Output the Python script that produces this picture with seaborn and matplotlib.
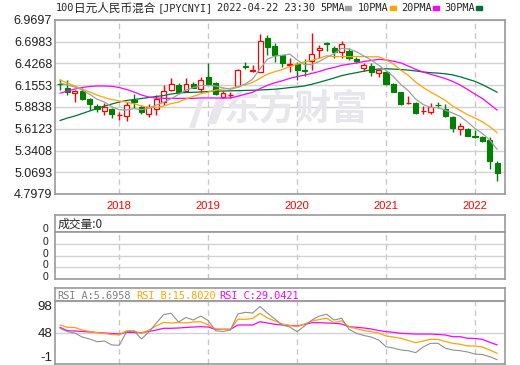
import matplotlib
matplotlib.use('Agg')
import matplotlib.pyplot as plt
from matplotlib.patches import Rectangle, Polygon
import seaborn as sns
import numpy as np
import pandas as pd

# monthly candles, 2017-05 .. 2022-04
months = pd.period_range('2017-05', '2022-04', freq='M')

opens = [6.177, 6.125, 6.055, 6.083, 5.986, 5.902, 5.830, 5.859, 5.780, 5.771,
         5.971, 5.888, 5.800, 5.859, 5.942, 6.100, 6.158, 6.083, 6.171, 6.108,
         6.258, 6.180, 6.012, 6.030, 6.150, 6.396, 6.333, 6.324, 6.749, 6.645,
         6.527, 6.412, 6.417, 6.346, 6.458, 6.592, 6.683, 6.616, 6.567, 6.583,
         6.483, 6.367, 6.399, 6.314, 6.317, 6.171, 6.067, 5.930, 5.930, 5.834,
         5.825, 5.912, 5.855, 5.765, 5.609, 5.609, 5.517, 5.513, 5.472, 5.188]
highs = [6.233, 6.221, 6.100, 6.125, 6.000, 5.921, 5.934, 5.875, 5.825, 5.946,
         6.046, 5.909, 5.917, 6.034, 6.158, 6.249, 6.180, 6.242, 6.200, 6.258,
         6.439, 6.200, 6.083, 6.067, 6.352, 6.442, 6.408, 6.791, 6.782, 6.679,
         6.533, 6.499, 6.449, 6.483, 6.804, 6.658, 6.691, 6.649, 6.708, 6.616,
         6.512, 6.429, 6.429, 6.354, 6.333, 6.180, 6.075, 6.025, 5.942, 5.900,
         5.930, 5.942, 5.917, 5.771, 5.688, 5.625, 5.597, 5.518, 5.513, 5.213]
lows = [6.096, 6.034, 5.952, 5.967, 5.846, 5.821, 5.784, 5.746, 5.722, 5.709,
        5.871, 5.793, 5.763, 5.784, 5.909, 6.083, 6.046, 6.067, 6.117, 6.075,
        6.165, 6.034, 5.992, 5.992, 6.137, 6.358, 6.317, 6.317, 6.533, 6.449,
        6.387, 6.324, 6.221, 6.271, 6.346, 6.492, 6.583, 6.492, 6.499, 6.470,
        6.429, 6.333, 6.274, 6.258, 6.158, 6.067, 5.909, 5.927, 5.796, 5.793,
        5.793, 5.875, 5.763, 5.575, 5.534, 5.522, 5.493, 5.453, 5.110, 4.964]
closes = [6.165, 6.067, 6.083, 5.980, 5.921, 5.859, 5.884, 5.793, 5.788, 5.909,
          5.946, 5.818, 5.880, 5.986, 6.083, 6.171, 6.075, 6.171, 6.125, 6.217,
          6.171, 6.046, 6.055, 6.036, 6.342, 6.383, 6.342, 6.711, 6.629, 6.533,
          6.429, 6.420, 6.346, 6.333, 6.542, 6.624, 6.675, 6.574, 6.666, 6.499,
          6.458, 6.408, 6.317, 6.346, 6.167, 6.075, 5.917, 5.934, 5.813, 5.840,
          5.888, 5.905, 5.775, 5.625, 5.647, 5.526, 5.509, 5.459, 5.213, 5.064]

ma5 = [6.183, 6.158, 6.133, 6.096, 6.043, 5.982, 5.945, 5.887, 5.849, 5.847,
       5.864, 5.851, 5.868, 5.908, 5.943, 5.988, 6.039, 6.097, 6.125, 6.152,
       6.152, 6.146, 6.123, 6.105, 6.130, 6.172, 6.232, 6.363, 6.481, 6.520,
       6.529, 6.544, 6.471, 6.412, 6.414, 6.453, 6.504, 6.550, 6.616, 6.608,
       6.574, 6.521, 6.470, 6.406, 6.339, 6.263, 6.164, 6.088, 5.981, 5.916,
       5.878, 5.876, 5.844, 5.807, 5.768, 5.696, 5.616, 5.553, 5.471, 5.354]
ma10 = [6.221, 6.183, 6.146, 6.108, 6.071, 6.033, 6.002, 5.977, 5.959, 5.945,
        5.923, 5.898, 5.878, 5.879, 5.895, 5.926, 5.945, 5.983, 6.017, 6.048,
        6.070, 6.093, 6.110, 6.115, 6.141, 6.162, 6.189, 6.243, 6.293, 6.325,
        6.351, 6.388, 6.417, 6.447, 6.467, 6.491, 6.524, 6.511, 6.514, 6.511,
        6.514, 6.513, 6.510, 6.511, 6.474, 6.419, 6.343, 6.279, 6.194, 6.128,
        6.071, 6.020, 5.966, 5.894, 5.842, 5.787, 5.746, 5.699, 5.639, 5.561]
ma20 = [6.055, 6.083, 6.108, 6.127, 6.140, 6.146, 6.146, 6.142, 6.127, 6.102,
        6.071, 6.033, 6.008, 5.996, 5.992, 5.992, 5.992, 5.992, 5.992, 5.997,
        5.997, 5.996, 5.994, 5.997, 6.018, 6.044, 6.067, 6.113, 6.155, 6.187,
        6.211, 6.241, 6.264, 6.281, 6.304, 6.327, 6.357, 6.377, 6.404, 6.418,
        6.433, 6.451, 6.464, 6.479, 6.471, 6.455, 6.434, 6.395, 6.354, 6.320,
        6.293, 6.267, 6.238, 6.203, 6.158, 6.103, 6.045, 5.989, 5.917, 5.845]
ma30 = [5.715, 5.746, 5.771, 5.802, 5.834, 5.865, 5.896, 5.921, 5.946, 5.965,
        5.977, 5.990, 6.002, 6.015, 6.027, 6.046, 6.058, 6.065, 6.067, 6.071,
        6.077, 6.083, 6.083, 6.086, 6.088, 6.091, 6.093, 6.096, 6.101, 6.106,
        6.115, 6.126, 6.135, 6.147, 6.168, 6.193, 6.219, 6.246, 6.275, 6.295,
        6.312, 6.331, 6.346, 6.358, 6.361, 6.357, 6.352, 6.344, 6.334, 6.321,
        6.312, 6.307, 6.298, 6.284, 6.261, 6.232, 6.204, 6.163, 6.116, 6.067]

rsi_a = [55.1, 49.8, 47.7, 41.4, 38.3, 34.0, 35.1, 28.9, 28.4, 49.8,
         50.9, 38.3, 49.3, 63.4, 76.8, 78.7, 65.0, 72.1, 68.1, 74.4,
         67.4, 51.3, 50.1, 52.4, 77.6, 80.2, 79.1, 89.4, 78.7, 69.7,
         60.3, 57.1, 49.8, 58.7, 68.1, 74.4, 77.1, 68.1, 70.8, 53.5,
         47.2, 43.8, 41.4, 36.7, 26.2, 24.1, 21.0, 19.9, 16.8, 25.7,
         31.5, 31.5, 23.7, 21.0, 19.9, 17.9, 14.7, 13.9, 10.5, 5.6958]
rsi_b = [60.3, 56.7, 56.4, 52.4, 50.1, 48.2, 46.9, 45.4, 44.6, 51.3,
         50.9, 47.2, 52.4, 58.7, 64.5, 63.4, 64.2, 63.4, 65.0, 65.5,
         60.3, 54.0, 53.5, 53.5, 69.2, 69.2, 70.5, 78.7, 71.3, 66.6,
         61.9, 59.5, 57.6, 61.9, 66.6, 68.9, 70.8, 63.9, 67.0, 57.6,
         54.5, 51.6, 49.8, 47.7, 43.0, 41.4, 39.4, 35.9, 32.5, 35.1,
         37.8, 37.8, 34.4, 31.5, 30.0, 27.3, 27.3, 25.7, 21.0, 15.802]
rsi_c = [56.7, 51.3, 50.9, 50.1, 49.3, 48.5, 47.7, 46.9, 46.1, 48.8,
         48.5, 48.2, 50.1, 52.4, 55.1, 55.1, 55.6, 56.4, 57.1, 57.6,
         57.1, 53.5, 53.5, 53.5, 60.3, 60.3, 60.3, 65.5, 63.4, 61.4,
         60.3, 59.5, 58.7, 61.1, 63.9, 63.9, 63.4, 63.0, 61.9, 57.6,
         56.7, 55.6, 54.0, 51.6, 49.8, 48.8, 47.2, 46.6, 46.1, 46.1,
         46.1, 45.4, 44.6, 41.9, 41.9, 39.4, 39.1, 37.8, 33.0, 29.0421]

price_ticks = ['6.9697', '6.6983', '6.4268', '6.1553', '5.8838',
               '5.6123', '5.3408', '5.0693', '4.7979']
rsi_ticks = [98, 48.5, -1]
rsi_labels = ['98', '48', '-1']

RED = '#ff0000'
GREEN = '#008000'
GRAY = '#a0a0a0'
ORANGE = '#ffa500'
MAGENTA = '#ff00ff'
DKGREEN = '#00703a'
WM = '#e6e6ec'

sns.set_style('white')
plt.rcParams['font.family'] = ['Liberation Sans', 'Noto Sans CJK SC']
plt.rcParams['axes.edgecolor'] = '#999999'
plt.rcParams['axes.linewidth'] = 1.2
MONO = ['DejaVu Sans Mono', 'Noto Sans CJK SC']

df = pd.DataFrame({'open': opens, 'high': highs, 'low': lows, 'close': closes,
                   'ma5': ma5, 'ma10': ma10, 'ma20': ma20, 'ma30': ma30,
                   'rsi_a': rsi_a, 'rsi_b': rsi_b, 'rsi_c': rsi_c})
df['i'] = np.arange(len(df))
year_idx = [i for i, m in enumerate(months) if m.month == 1]
years = [str(months[i].year) for i in year_idx]

W, H = 520.0, 365.0
fig = plt.figure(figsize=(5.2, 3.65), dpi=100)


def box(x0, y0, x1, y1):
    return [x0 / W, 1 - y1 / H, (x1 - x0) / W, (y1 - y0) / H]


def ftext(x, y, s, **kw):
    fig.text(x / W, 1 - y / H, s, **kw)


ax = fig.add_axes(box(55, 20, 505, 194))
axvh = fig.add_axes(box(55, 215, 505, 232))
axv = fig.add_axes(box(55, 232, 505, 279))
axrh = fig.add_axes(box(55, 288, 505, 301))
axr = fig.add_axes(box(55, 301, 505, 364))

xlim = (-0.67, 60.05)

# ---- main price panel
up = df['close'] >= df['open']
body = (df['close'] - df['open']).abs().clip(lower=0.002)
bottom = df[['open', 'close']].min(axis=1)
ax.vlines(df['i'], df['low'], df['high'], colors=np.where(up, RED, GREEN), lw=1, zorder=3)
ax.bar(df['i'][up], body[up], bottom=bottom[up], width=0.66, color='white',
       edgecolor=RED, lw=0.9, zorder=4)
ax.bar(df['i'][~up], body[~up], bottom=bottom[~up], width=0.7, color=GREEN,
       edgecolor=GREEN, lw=0.8, zorder=4)

for col, c in [('ma30', DKGREEN), ('ma20', MAGENTA), ('ma10', ORANGE), ('ma5', GRAY)]:
    sns.lineplot(data=df, x='i', y=col, ax=ax, color=c, lw=0.9, zorder=5)

# watermark
ax.text(0.537, 0.49, '东方财富', transform=ax.transAxes, ha='center', va='center',
        fontsize=26, fontweight='bold', color=WM, family='Noto Sans CJK SC', zorder=1)
ax.add_patch(Polygon([(0.298, 0.379), (0.311, 0.379), (0.331, 0.546), (0.320, 0.546)],
                     closed=True, transform=ax.transAxes, color=WM, lw=0, zorder=1))
ax.add_patch(Polygon([(0.338, 0.402), (0.358, 0.402), (0.380, 0.546), (0.358, 0.546)],
                     closed=True, transform=ax.transAxes, color=WM, lw=0, zorder=1))

ax.set_xlim(*xlim)
ax.set_ylim(4.7979, 6.9697)
ax.set_yticks([float(t) for t in price_ticks])
ax.set_yticklabels(price_ticks)
ax.set_xticks(year_idx)
ax.set_xticklabels(years, color=RED, fontsize=8)
ax.tick_params(axis='y', length=0, pad=2, labelsize=9, labelcolor='#202020')
ax.tick_params(axis='x', length=0, pad=5)
ax.yaxis.grid(True, color='#d2d2d2', lw=1, ls='-')
ax.xaxis.grid(True, color='#c8c8c8', lw=1, ls=(0, (4, 3)))
ax.set_axisbelow(True)
ax.set_xlabel('')
ax.set_ylabel('')

# title line
ftext(56, 8, '100', family=MONO, fontsize=7.4, va='center')
ftext(74, 8, '日元人民币混合', family='Noto Sans CJK SC', fontsize=8.4, va='center')
ftext(158, 8, '[JPYCNYI]', family=MONO, fontsize=7.4, va='center')
ftext(217, 8, '2022-04-22 23:30', family=MONO, fontsize=7.4, va='center')
for x0, lab, c in [(320, '5PMA', GRAY), (358, '10PMA', ORANGE),
                   (401, '20PMA', MAGENTA), (444, '30PMA', DKGREEN)]:
    ftext(x0, 8, lab, family=MONO, fontsize=7.4, va='center')
    sq_x = x0 + len(lab) * 6.1 + 1
    fig.patches.append(Rectangle((sq_x / W, 1 - 10 / H), 6 / W, 4 / H,
                                 transform=fig.transFigure, color=c))

# ---- volume panel
for a in (axvh, axv, axrh):
    a.set_xticks([])
    a.set_yticks([])
axvh.text(0.006, 0.45, '成交量:0', transform=axvh.transAxes, va='center',
          fontsize=8.5, family=['Noto Sans CJK SC'])
axv.set_xlim(*xlim)
axv.set_ylim(0, 4)
axv.set_xticks(year_idx)
axv.set_yticks([1, 2, 3])
axv.tick_params(length=0, labelbottom=False, labelleft=False)
axv.yaxis.grid(True, color='#d2d2d2', lw=1)
axv.xaxis.grid(True, color='#c8c8c8', lw=1, ls=(0, (4, 3)))
for y in [229, 242, 254, 265, 277]:
    ftext(48, y, '0', ha='right', va='center', fontsize=7.5, color='#202020')

# ---- RSI panel
axrh.text(0.005, 0.45, 'RSI_A:5.6958', transform=axrh.transAxes, va='center',
          family=MONO, fontsize=7.4, color='#808080')
axrh.text(0.18, 0.45, 'RSI_B:15.8020', transform=axrh.transAxes, va='center',
          family=MONO, fontsize=7.4, color=ORANGE)
axrh.text(0.366, 0.45, 'RSI_C:29.0421', transform=axrh.transAxes, va='center',
          family=MONO, fontsize=7.4, color=MAGENTA)

sns.lineplot(data=df, x='i', y='rsi_c', ax=axr, color=MAGENTA, lw=0.9)
sns.lineplot(data=df, x='i', y='rsi_b', ax=axr, color=ORANGE, lw=0.9)
sns.lineplot(data=df, x='i', y='rsi_a', ax=axr, color='#909090', lw=0.8)
axr.set_xlim(*xlim)
axr.set_ylim(-1, 98)
axr.set_xticks(year_idx)
axr.set_yticks(rsi_ticks)
axr.set_yticklabels(rsi_labels)
axr.tick_params(length=0, labelbottom=False, labelsize=9.5, pad=2, labelcolor='#202020')
tl = axr.get_yticklabels()
tl[0].set_verticalalignment('top')
tl[2].set_verticalalignment('bottom')
axr.yaxis.grid(True, color='#d2d2d2', lw=1)
axr.xaxis.grid(True, color='#c8c8c8', lw=1, ls=(0, (4, 3)))
axr.set_axisbelow(True)
axr.set_xlabel('')
axr.set_ylabel('')

fig.savefig('out.png', dpi=100)
